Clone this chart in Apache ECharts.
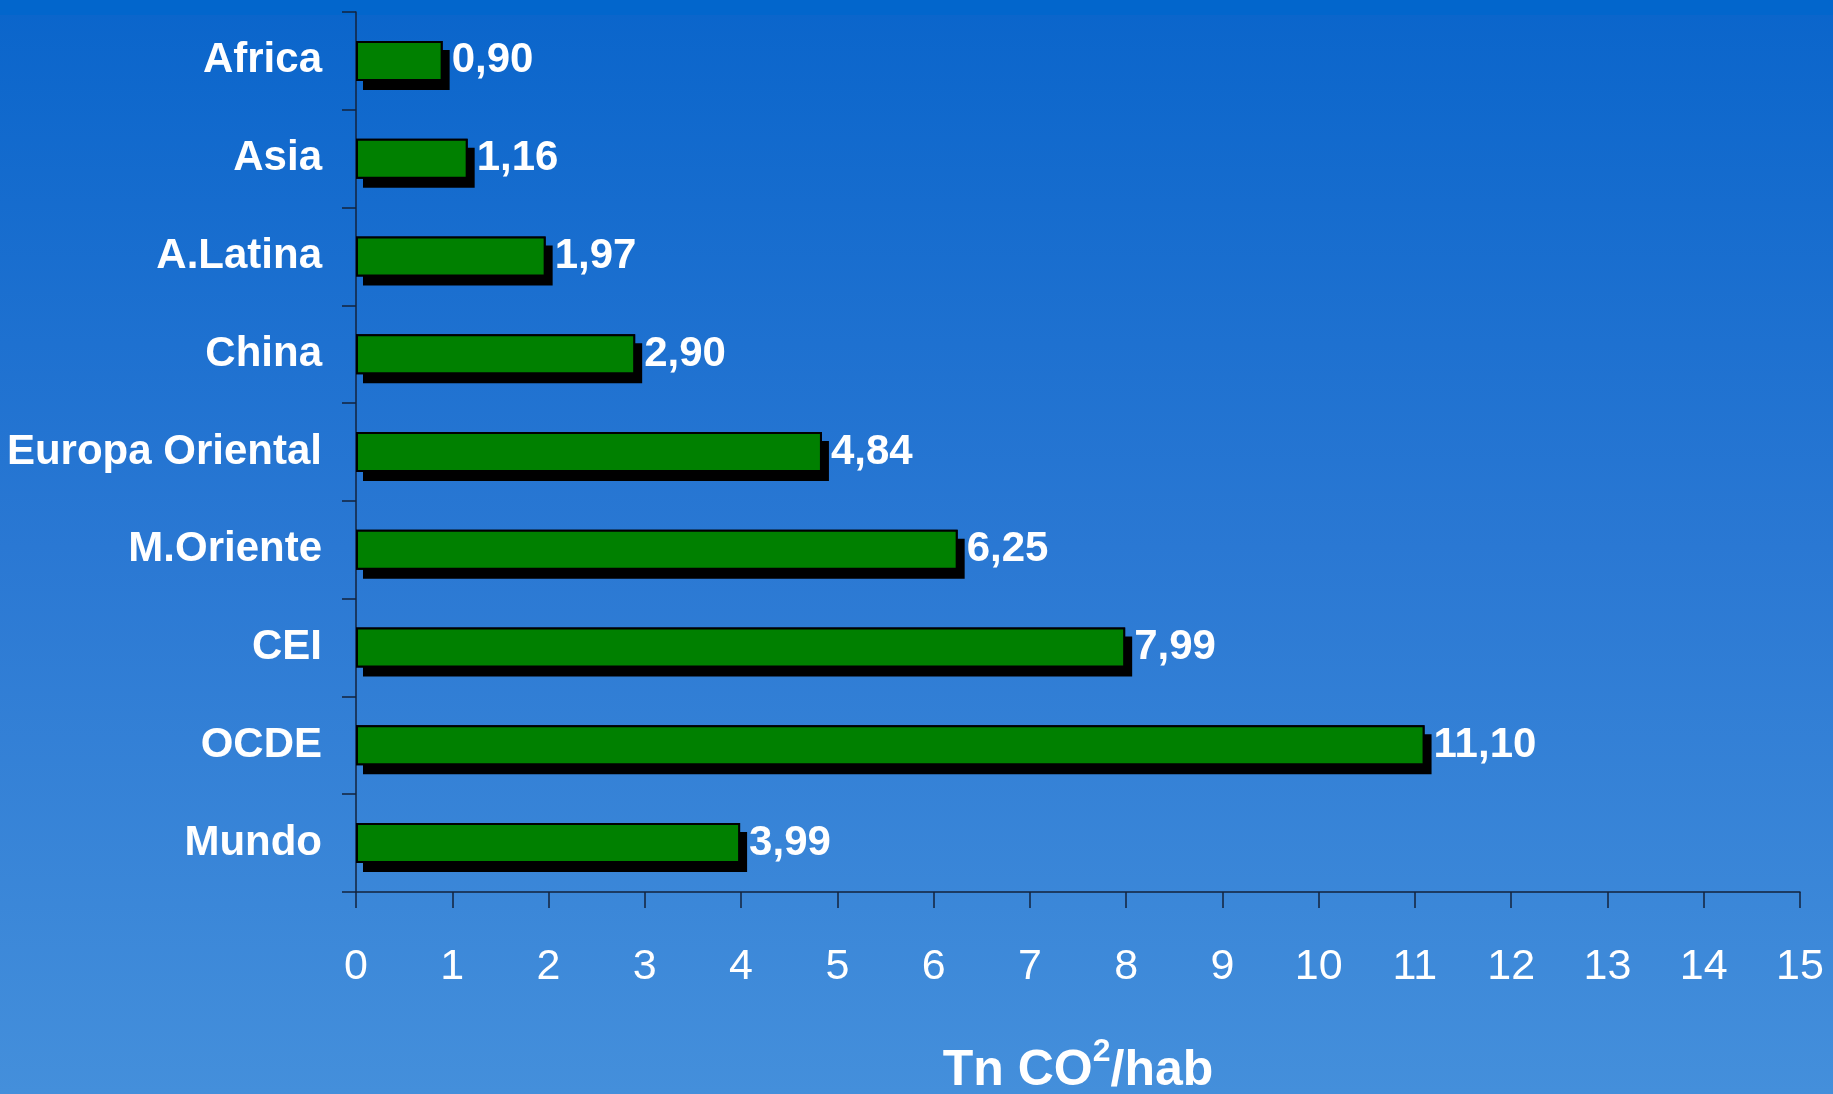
<!DOCTYPE html>
<html>
<head>
<meta charset="utf-8">
<script src="https://cdn.jsdelivr.net/npm/echarts@6/dist/echarts.min.js"></script>
<style>
  html, body { margin: 0; padding: 0; }
  #chart { width: 1833px; height: 1094px; }
</style>
</head>
<body>
<div id="chart"></div>
<script>
// Emisiones per cápita por región (Tn CO2/hab)
const regions = ['Africa', 'Asia', 'A.Latina', 'China', 'Europa Oriental', 'M.Oriente', 'CEI', 'OCDE', 'Mundo'];
const emissions = [0.90, 1.16, 1.97, 2.90, 4.84, 6.25, 7.99, 11.10, 3.99];
const axisMin = 0;
const axisMax = 15;
const axisStep = 1;

const FONT = "'Liberation Sans Narrow', 'Arial Narrow', 'Liberation Sans', Arial, sans-serif";
const fmt = v => v.toFixed(2).replace('.', ',');

const chart = echarts.init(document.getElementById('chart'), null, { renderer: 'canvas' });

chart.setOption({
  animation: false,
  backgroundColor: {
    type: 'linear', x: 0, y: 0, x2: 0, y2: 1,
    colorStops: [
      { offset: 0, color: '#0A65CB' },
      { offset: 0.5, color: '#2A78D3' },
      { offset: 1, color: '#448FDB' }
    ]
  },
  graphic: [{
    type: 'rect', left: 0, top: 0, z: -10,
    shape: { width: 1833, height: 15 },
    style: { fill: '#0266CC' }
  }],
  grid: { left: 356, right: 33, top: 12, height: 880, containLabel: false, outerBoundsMode: 'none' },
  xAxis: {
    type: 'value',
    min: axisMin, max: axisMax, interval: axisStep,
    name: '{m|Tn CO}{s|2}{m|/hab}',
    nameLocation: 'middle',
    nameGap: 144,
    nameTextStyle: {
      rich: {
        m: { fontFamily: FONT, fontWeight: 'bold', fontSize: 50, color: '#fff', lineHeight: 60, verticalAlign: 'bottom' },
        s: { fontFamily: FONT, fontWeight: 'bold', fontSize: 32, color: '#fff', lineHeight: 32, verticalAlign: 'top' }
      }
    },
    splitLine: { show: false },
    axisLine: { show: true, lineStyle: { color: '#13233d', width: 1.5 } },
    axisTick: { show: true, length: 16, lineStyle: { color: '#13233d', width: 1.5 } },
    axisLabel: { color: '#fff', fontFamily: FONT, fontSize: 43, margin: 54 }
  },
  yAxis: {
    type: 'category',
    data: regions,
    inverse: true,
    axisLine: { show: true, lineStyle: { color: '#13233d', width: 1.5 } },
    axisTick: { show: true, length: 14, lineStyle: { color: '#13233d', width: 1.5 } },
    axisLabel: {
      color: '#fff', fontFamily: FONT, fontWeight: 'bold', fontSize: 42, margin: 34,
      padding: [8, 0, 0, 0]
    }
  },
  series: [
    {
      // drop shadow behind each bar
      type: 'bar',
      data: emissions,
      barWidth: 40,
      silent: true,
      itemStyle: {
        color: '#000',
        shadowColor: '#000',
        shadowBlur: 0,
        shadowOffsetX: 7,
        shadowOffsetY: 9
      }
    },
    {
      type: 'bar',
      data: emissions,
      barWidth: 40,
      barGap: '-100%',
      itemStyle: {
        color: '#008000',
        borderColor: '#000',
        borderWidth: 2
      },
      label: {
        show: true,
        position: 'right',
        distance: 9,
        padding: [8, 0, 0, 0],
        color: '#fff',
        fontFamily: FONT,
        fontWeight: 'bold',
        fontSize: 42,
        formatter: p => fmt(p.value)
      }
    }
  ]
});
</script>
</body>
</html>
